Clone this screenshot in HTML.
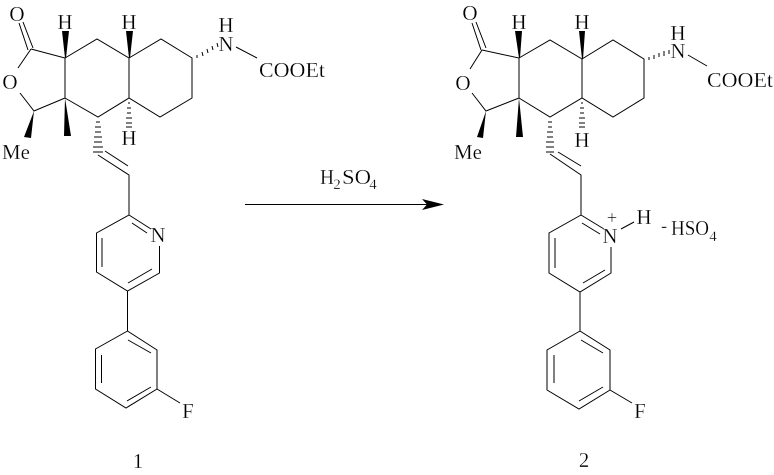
<!DOCTYPE html>
<html>
<head>
<meta charset="utf-8">
<style>
html,body{margin:0;padding:0;background:#fff;width:774px;height:475px;overflow:hidden}
svg{display:block}
path.b{stroke:#000;stroke-width:1;fill:none}
line{stroke:#000;stroke-width:1;fill:none}
text{font-family:"Liberation Serif",serif;font-size:21px;fill:#000;text-anchor:middle;stroke:#fff;stroke-width:.25px}
text.s{font-size:15px}
text.st{text-anchor:start}
</style>
</head>
<body>
<svg width="774" height="475" viewBox="0 0 774 475" xmlns="http://www.w3.org/2000/svg">
<!-- Molecule 1 -->
<path class="b" d="M19 23L28 50M23 22L33 48M31 49L65 58V98M65 58L97 39L129 58V98M129 58L161 39L192 58V98L160 117L129 98L98 117L65 98M31 49L18 68M20 93L34 111L65 98"/>
<path d="M62 31H69L66 58H65ZM126 31H133L130 58H129ZM34 111L31 138L24 137ZM65 98L71 136H64Z"/>
<path class="b" d="M96 122H100M95 127H101M95 132H101M94 137H102M94 142H102M93 147H103M93 152H103M128 103H130M127 108H131M127 113H131M126 118H132M126 123H132M126 127H132"/>
<path class="b" d="M98 155L129 175V210M105 151L128 166M197 55L197 58M202 52L203 56M207 49L208 53M212 46L213 50M217 43L218 47M236 47L257 58"/>
<path class="b" d="M129 210V215L96.500 233V272L127.500 291L159.500 273V246M129 215L151 229M132 223L147 233M102 238V267M128 283L152 269M127.500 291V331L157 350V389L126 408L95.500 389V349L127.500 331M128 340L151 353M101.500 355V383M127 401L151 387M157 389L180 403"/>
<text x="17" y="21">O</text><text x="10" y="89">O</text>
<text x="65" y="29">H</text><text x="129" y="29">H</text>
<text x="16" y="159" textLength="28" lengthAdjust="spacingAndGlyphs">Me</text>
<text x="129" y="145">H</text>
<text x="226" y="51">N</text><text x="226" y="32">H</text>
<text x="292" y="77" textLength="66" lengthAdjust="spacingAndGlyphs">COOEt</text>
<text x="158" y="242">N</text>
<text x="188" y="418">F</text>
<text x="138" y="468">1</text>
<!-- Arrow -->
<line x1="245" y1="204.500" x2="440" y2="204.500"/>
<path d="M422 199L444 204.500L422 210L427 204.500Z"/>
<text x="320" y="184" class="st" textLength="14" lengthAdjust="spacingAndGlyphs">H</text>
<text x="337" y="189" class="s">2</text>
<text x="342" y="184" class="st" textLength="29" lengthAdjust="spacingAndGlyphs">SO</text>
<text x="373" y="189" class="s">4</text>
<!-- Molecule 2 -->
<path class="b" d="M472 23L481 50M476 22L486 48M482 50L519 58V98M519 58L550 40L582 59V98M582 59L613 40L644 59V98L613 117L582 98L550 117L519 98M482 50L470 69M472 93L486 111L519 98"/>
<path d="M515 31H522L520 58H519ZM579 31H585L583 59H582ZM486 111L483 138L477 137ZM519 98L523 137H516Z"/>
<path class="b" d="M548 122H552M548 127H552M547 132H553M547 137H553M546 142H554M546 147H554M546 152H554M581 103H583M580 108H584M580 113H584M579 118H585M579 123H585M579 127H585"/>
<path class="b" d="M550 154L581 175V210M558 152L581 166M649 57L649 60M654 55L654 59M659 53L659 57M664 51L664 56M669 50L669 54M688 55L707 66"/>
<path class="b" d="M581 210V215L549 233V273L580 292L611 273V247M581 215L604 229M582 223L600 234M555 238V268M583 283L605 270M580 292V331L610 350V390L579 409L547 390V350L580 331M581 340L603 353M554 355V383M579 401L603 387M610 390L632 403M621 229L634 222"/>
<text x="470" y="20">O</text><text x="463" y="90">O</text>
<text x="519" y="29">H</text><text x="582" y="29">H</text>
<text x="468" y="159" textLength="28" lengthAdjust="spacingAndGlyphs">Me</text>
<text x="582" y="147">H</text>
<text x="678" y="58">N</text><text x="678" y="40">H</text>
<text x="740" y="87" textLength="66" lengthAdjust="spacingAndGlyphs">COOEt</text>
<text x="610" y="243">N</text>
<text x="612" y="224" style="font-size:19px">+</text>
<text x="644" y="224">H</text>
<text x="664" y="232" style="font-size:19px">-</text>
<text x="671" y="235" class="st" textLength="38" lengthAdjust="spacingAndGlyphs">HSO</text>
<text x="713" y="241" class="s">4</text>
<text x="640" y="418">F</text>
<text x="584" y="467">2</text>
</svg>
</body>
</html>
